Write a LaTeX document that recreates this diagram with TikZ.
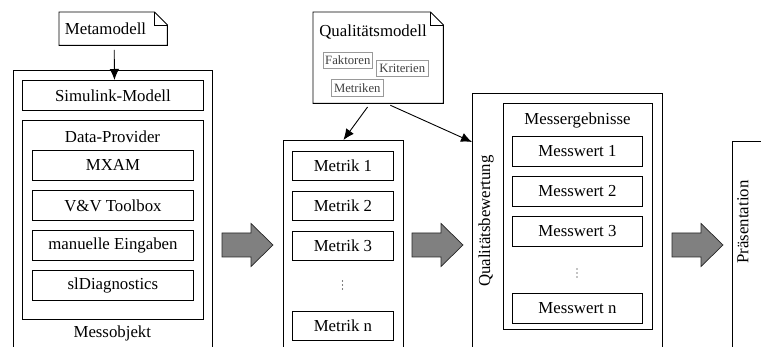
\documentclass[tikz,border=0pt]{standalone}
\usepackage{fontspec}
\setmainfont{Liberation Serif}
\usetikzlibrary{arrows.meta,calc}
\newcommand\myBig{\fontsize{16.8}{20}\selectfont}
\newcommand\mySmall{\fontsize{12.7}{15}\selectfont}
\begin{document}
\begin{tikzpicture}[x=1pt,y=-1pt,
  rbox/.style={draw, line width=0.9pt, rectangle, inner sep=0pt, anchor=north west, font=\myBig},
  nbox/.style={rectangle, inner sep=0pt, anchor=north west},
  gbox/.style={draw=black!40, line width=0.6pt, rectangle, inner sep=0pt, anchor=north west, font=\mySmall, text=black!75},
  lbl/.style={inner sep=0pt, font=\myBig},
  arr/.style={line width=0.9pt, -{Latex[length=11pt,width=9.5pt]}, shorten <=4.5pt},
  dotcol/.pic={\fill (0,-4) circle (0.6) (0,0) circle (0.6) (0,4) circle (0.6);},
  blockarrow/.pic={\draw[line width=0.7pt, draw=black!85, fill=gray, line join=miter]
     (0,-12) -- (29,-12) -- (29,-21.5) -- (51,0) -- (29,21.5) -- (29,12) -- (0,12) -- cycle;}
]
\useasboundingbox (0,0) rectangle (761,347);
\clip (0,0) rectangle (761,347);
\fill[white] (0,0) rectangle (761,347);

% ---------- Metamodell ----------
\node[nbox, minimum width=108pt, minimum height=33pt] (meta) at (59,12) {};
\draw[line width=0.9pt] (meta.north west) -- ([xshift=-13pt]meta.north east) -- ([yshift=-13pt]meta.north east) -- (meta.south east) -- (meta.south west) -- cycle;
\draw[line width=0.9pt] ([xshift=-13pt]meta.north east) -- ([xshift=-13pt,yshift=-13pt]meta.north east) -- ([yshift=-13pt]meta.north east);
\node[lbl] (metat) at (105.5,28.5) {Metamodell};

% ---------- Messobjekt ----------
\node[rbox, minimum width=199.3pt, minimum height=290pt] (mobj) at (12.7,70) {};
\node[rbox, minimum width=181pt, minimum height=30pt] (sim) at (22,80) {Simulink-Modell};
\node[rbox, minimum width=181pt, minimum height=199pt] (dp) at (22,120) {};
\node[lbl] (dpt) at (112.5,137) {Data-Provider};
\node[rbox, minimum width=161pt, minimum height=30pt] (mxam) at (32,150) {MXAM};
\node[rbox, minimum width=161pt, minimum height=30pt] (vv) at (32,190) {V\&V Toolbox};
\node[rbox, minimum width=161pt, minimum height=30pt] (man) at (32,230) {manuelle Eingaben};
\node[rbox, minimum width=161pt, minimum height=30pt] (sld) at (32,270) {slDiagnostics};
\node[lbl] (mobjt) at (112.3,333) {Messobjekt};

\draw[arr] ([xshift=1pt]meta.south) -- ([xshift=1.5pt]sim.north);

% ---------- Qualitaetsmodell ----------
\node[nbox, minimum width=130pt, minimum height=91pt] (qm) at (313,12) {};
\draw[line width=0.9pt] (qm.north west) -- ([xshift=-13pt]qm.north east) -- ([yshift=-13pt]qm.north east) -- (qm.south east) -- (qm.south west) -- cycle;
\draw[line width=0.9pt] ([xshift=-13pt]qm.north east) -- ([xshift=-13pt,yshift=-13pt]qm.north east) -- ([yshift=-13pt]qm.north east);
\node[lbl] (qmt) at (373,32) {Qualitätsmodell};
\node[gbox, minimum width=49pt, minimum height=16pt] (fak) at (323,52) {Faktoren};
\node[gbox, minimum width=52pt, minimum height=16pt] (krit) at (376,60) {Kriterien};
\node[gbox, minimum width=52pt, minimum height=17pt] (metr) at (331,79) {Metriken};

% ---------- Metriken ----------
\node[rbox, minimum width=120pt, minimum height=220pt] (metc) at (283,140) {};
\node[rbox, minimum width=101pt, minimum height=29.5pt] (m1) at (292,151) {Metrik 1};
\node[rbox, minimum width=101pt, minimum height=29.5pt] (m2) at (292,191) {Metrik 2};
\node[rbox, minimum width=101pt, minimum height=29.5pt] (m3) at (292,231) {Metrik 3};
\pic at (342.5,285) {dotcol};
\node[rbox, minimum width=101pt, minimum height=29.5pt] (mn) at (292,311) {Metrik n};

% ---------- Qualitaetsbewertung ----------
\node[rbox, minimum width=190pt, minimum height=270pt] (qb) at (472,93) {};
\node[lbl, rotate=90] (qbt) at (486,221) {Qualitätsbewertung};
\node[rbox, minimum width=149pt, minimum height=226pt] (me) at (503,103) {};
\node[lbl] (met) at (577.5,120) {Messergebnisse};
\node[rbox, minimum width=130pt, minimum height=30pt] (w1) at (512,136) {Messwert 1};
\node[rbox, minimum width=130pt, minimum height=30pt] (w2) at (512,176) {Messwert 2};
\node[rbox, minimum width=130pt, minimum height=30pt] (w3) at (512,216) {Messwert 3};
\pic at (577,273) {dotcol};
\node[rbox, minimum width=130pt, minimum height=30pt] (wn) at (512,293) {Messwert n};

% ---------- Praesentation ----------
\node[rbox, minimum width=60pt, minimum height=220pt] (pr) at (732,141) {};
\node[lbl, rotate=90] (prt) at (743,222) {Präsentation};

% ---------- arrows from Qualitaetsmodell ----------
\draw[arr] ([xshift=-8pt]qm.south) -- (metc.north);
\draw[arr] ([xshift=8pt]qm.south) -- ([yshift=-49pt]qb.north west);

% ---------- block arrows ----------
\pic at (222,245) {blockarrow};
\pic at (412,245) {blockarrow};
\pic at (672,245) {blockarrow};
\end{tikzpicture}
\end{document}
